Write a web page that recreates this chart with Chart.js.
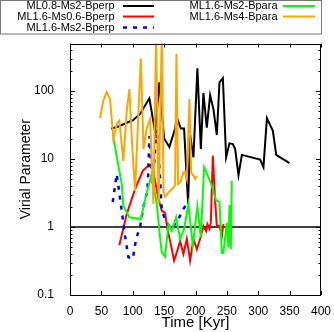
<!DOCTYPE html>
<html><head><meta charset="utf-8">
<script src="https://cdn.jsdelivr.net/npm/chart.js@4.4.1/dist/chart.umd.min.js"></script>
<style>html,body{margin:0;padding:0;background:#fff}#wrap{width:334px;height:332px;position:relative}</style>
</head><body><div id="wrap"><canvas id="c" width="334" height="332"></canvas></div>
<script>
// ---- data (time in kyr, virial parameter) ----
const seriesNames = ["ML0.8-Ms2-Bperp","ML1.6-Ms0.6-Bperp","ML1.6-Ms2-Bperp","ML1.6-Ms2-Bpara","ML1.6-Ms4-Bpara"];
const blackT = [65.4,77,93,100,111.7,126.5,135.6,142.4,150,158.4,167.5,170.2,176.6,181.8,188.2,191.4,196.7,203,208.5,212.6,218,223.3,228.6,234,238.2,243.6,248.8,254.1,259.5,263.2,268.5,273.9,303,308.3,313.8,323.3,328.6,349.8];
const blackV = [28,30,35,37,46,78,25,134,20,15,28,41,28,28,2.2,23,10.6,216,14,93,29,87,54,22.5,134,154,10.6,17,16.6,14,5.8,11.5,9.8,7.6,40,26,11.5,8.7];
const redT = [78.6,90.4,103.7,116,124.9,130.3,134,140.9,146.3,151.5,155.2,160.6,165.9,170.7,175.5,180.7,186.2,191.4,196.7,202.1,207.4,212.6,216.9,219,222.2,224.4,227.6,231.3,234,238.2,242,244.5];
const redV = [0.54,1.55,3.6,6.7,8.0,8.4,5.7,2.6,1.74,1.6,0.94,0.56,0.32,0.44,0.62,0.4,0.67,0.32,0.67,0.47,0.67,1.03,0.87,1.1,0.94,1.15,11.2,2.4,1.04,1.04,0.74,1.1];
const blueT = [68.1,74.5,79.8,82.5,87.7,93,100,105.3,111.7,116.9,123.3,124.9,126.5,131.6,138.3,140.9,143.6,146.3,153.1,162.2,172.8,180.7,188.7];
const blueV = [2.33,6.0,2.6,1.72,0.74,0.36,0.34,0.67,1.0,1.97,3.4,6.7,21.8,4.3,27.6,13.1,5.1,1.74,1.19,0.94,1.31,1.84,2.4];
const greenT = [69.1,76.6,82.5,85,94.6,112.8,122.3,130.3,138.3,142.4,146.3,151.5,156.8,162.2,169.1,175.5,181.8,188.7,195.7,203,208.5,213.7,220.6,226,232.9,238.2,242,244.5,249.9,252.5,254.1,256.3,257.9];
const greenV = [20.8,8.4,4.3,2.06,1.39,1.31,3.2,6.0,2.18,0.88,0.425,0.366,1.1,0.88,1.39,0.67,0.93,2.18,0.53,2.0,0.71,7.6,5.4,4.05,2.44,2.36,0.415,0.42,1.15,0.5,2.1,0.47,4.8];
const orangeT = [47.9,53.1,58.5,63.8,69.1,74.5,78.6,85,90.4,94.6,99.4,103.7,112.8,117.2,122,127.6,132.9,137.2,141.2,146.3,149.1,151.5,156.8,162.2,167.5,169.6,172.3,176.3,180.7,183.4,186.2,190.3,193,196.7,199.4,202.1];
const orangeV = [40,72,96,76,19.7,33,36.6,9.4,51,107,14,3.4,300,14,27.6,38.8,2.2,690,2.2,690,3.3,2.8,3.2,3.6,4.05,350,4.3,4.6,6.4,6.4,5.1,76,6.4,5.7,5.1,5.7];
const unityT = [0,400];
const unityV = [1,1];
const xTickValues = [0,50,100,150,200,250,300,350,400];
const yTickValues = [0.1,1,10,100];
const xTitle = "Time [Kyr]";
const yTitle = "Virial Parameter";

const pts = (t,v) => t.map((x,i)=>({x:x,y:v[i]}));
const styles = [
  {color:'#000000', dash:[], width:2, order:5},
  {color:'#ff0000', dash:[], width:2, order:4},
  {color:'#0000ff', dash:[4,6], width:2.5, order:3},
  {color:'#00ff00', dash:[], width:2, order:2},
  {color:'#ffa500', dash:[], width:2, order:1}
];
const seriesData = [pts(blackT,blackV),pts(redT,redV),pts(blueT,blueV),pts(greenT,greenV),pts(orangeT,orangeV)];
const datasets = seriesData.map((d,i)=>({
  label: seriesNames[i], data:d, borderColor:styles[i].color, backgroundColor:styles[i].color,
  borderWidth:styles[i].width, borderDash:styles[i].dash, pointRadius:0, tension:0, fill:false,
  order:styles[i].order, clip:0, borderCapStyle:'butt', borderJoinStyle:'miter'
}));
datasets.push({label:'unity', data:pts(unityT,unityV), borderColor:'#000', borderWidth:1.3, pointRadius:0, order:6, clip:0});

const FONT = '"Liberation Sans", Arial, sans-serif';
const legendLayout = [
  {i:0, tx:114.5, lx0:123, lx1:154, y:6},
  {i:1, tx:114.5, lx0:123, lx1:154, y:16.5},
  {i:2, tx:114.5, lx0:123, lx1:154, y:27.5},
  {i:3, tx:277.5, lx0:283, lx1:315, y:6},
  {i:4, tx:277.5, lx0:283, lx1:315, y:16.5}
];
const legendPlugin = {
  id:'gpLegend',
  afterDraw(chart){
    const ctx = chart.ctx;
    ctx.save();
    ctx.strokeStyle = '#777'; ctx.lineWidth = 1;
    ctx.strokeRect(0.5,0.5,321,33.5);
    ctx.font = '11px ' + FONT; ctx.fillStyle = '#000';
    ctx.textAlign = 'right'; ctx.textBaseline = 'middle';
    legendLayout.forEach(L=>{
      const s = styles[L.i];
      ctx.fillText(seriesNames[L.i], L.tx, L.y);
      ctx.beginPath(); ctx.strokeStyle = s.color; ctx.lineWidth = s.i===2?2.5:2;
      ctx.lineWidth = s.width; ctx.setLineDash(s.dash);
      ctx.moveTo(L.lx0, L.y); ctx.lineTo(L.lx1, L.y); ctx.stroke(); ctx.setLineDash([]);
    });
    ctx.restore();
  }
};
const framePlugin = {
  id:'gpFrame',
  afterDatasetsDraw(chart){
    const {ctx, chartArea:a, scales:{x,y}} = chart;
    ctx.save();
    ctx.strokeStyle = '#000'; ctx.lineWidth = 1;
    ctx.beginPath();
    xTickValues.forEach(v=>{
      const px = Math.round(x.getPixelForValue(v))+0.5;
      ctx.moveTo(px,a.bottom); ctx.lineTo(px,a.bottom-4);
      ctx.moveTo(px,a.top); ctx.lineTo(px,a.top+4);
    });
    yTickValues.forEach(d=>{
      for(let m=1;m<=9;m++){
        const v = d*m; if(v>y.max+1e-9) break;
        const len = m===1?5:2.5;
        const py = Math.round(y.getPixelForValue(v))+0.5;
        ctx.moveTo(a.left,py); ctx.lineTo(a.left+len,py);
        ctx.moveTo(a.right,py); ctx.lineTo(a.right-len,py);
      }
    });
    ctx.stroke();
    ctx.strokeRect(Math.round(a.left)+0.5, Math.round(a.top)+0.5, Math.round(a.right-a.left)-1, Math.round(a.bottom-a.top)-1);
    ctx.restore();
  }
};

new Chart(document.getElementById('c'), {
  type:'line',
  data:{datasets:datasets},
  options:{
    responsive:false, animation:false, devicePixelRatio:1,
    layout:{padding:{left:0,right:13,top:43.5,bottom:0}},
    plugins:{legend:{display:false}, tooltip:{enabled:false}},
    scales:{
      x:{type:'linear', min:0, max:400,
        grid:{display:false}, border:{display:false},
        afterBuildTicks:(s)=>{s.ticks = xTickValues.map(v=>({value:v}));},
        ticks:{autoSkip:false, maxRotation:0, padding:1, color:'#000', font:{family:FONT,size:12}},
        title:{display:true, text:xTitle, color:'#000', font:{family:FONT,size:15}, padding:{top:0,bottom:0}},
        afterFit:(s)=>{s.height = 37;}
      },
      y:{type:'logarithmic', min:0.1, max:500,
        grid:{display:false}, border:{display:false},
        afterBuildTicks:(s)=>{s.ticks = yTickValues.map(v=>({value:v}));},
        ticks:{autoSkip:false, padding:8, color:'#000', font:{family:FONT,size:12}, callback:(v)=>String(v)},
        title:{display:true, text:yTitle, color:'#000', font:{family:FONT,size:14}, padding:{top:17.6,bottom:0}},
        afterFit:(s)=>{s.width = 70;}
      }
    }
  },
  plugins:[framePlugin, legendPlugin]
});
</script>
</body></html>
